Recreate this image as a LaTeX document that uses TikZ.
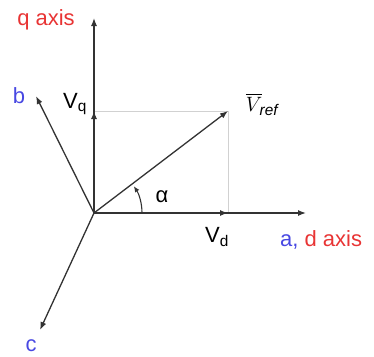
\documentclass[tikz,border=0pt]{standalone}
\usepackage{amsmath}
\usepackage{fontspec}
\setmainfont{Liberation Sans}
\usepackage{tikz}
\usetikzlibrary{arrows.meta}
\definecolor{axisred}{RGB}{232,52,52}
\definecolor{phaseblue}{RGB}{72,72,226}

\begin{document}
\begin{tikzpicture}[x=1pt,y=-1pt,
        vec/.style={line width=1.3pt,draw=black!80,-{Latex[length=8pt,width=6pt]}},
        proj/.style={line width=1pt,draw=black!18},
        lbl/.style={font=\fontsize{22}{24}\selectfont,inner sep=0pt}]
        \useasboundingbox (0,0) rectangle (374,356);
        % points
        \coordinate (O) at (94,213);
        \coordinate (qtip) at (94,18);
        \coordinate (dtip) at (306,213);
        \coordinate (vq) at (94,111);
        \coordinate (vd) at (228,213);
        \coordinate (vref) at (228,111);
        \coordinate (btip) at (36,96);
        \coordinate (ctip) at (40,330);
        % projections
        \draw[proj] (vq) -- (vref) -- (vd);
        % axes
        \draw[vec] (O) -- (qtip);
        \draw[vec] (O) -- (dtip);
        \draw[vec] (O) -- (btip);
        \draw[vec] (O) -- (ctip);
        % components and reference vector
        \draw[vec] (O) -- (vq);
        \draw[vec] (O) -- (vd);
        \draw[vec] (O) -- (vref);
        % angle
        \draw[line width=1.1pt,draw=black!80,-{Latex[length=6pt,width=5pt]}]
                ([xshift=48pt]O) arc[start angle=0,end angle=34,radius=48pt];
        % labels
        \node[lbl,text=axisred] (qlabel) at (46,20) {q axis};
        \node[lbl,text=phaseblue] (blabel) at (19,96) {b};
        \node[lbl,text=phaseblue] (clabel) at (31,346) {c};
        \node[lbl] (vqlabel) at (75,104) {V\textsubscript{q}};
        \node[lbl] (vdlabel) at (217,237) {V\textsubscript{d}};
        \node[lbl] (vreflabel) at (262,104) {$\overline{V}_{\!\mathit{ref}}$};
        \node[lbl] (alabel) at (162,197) {α};
        \node[lbl,anchor=west] (dlabel) at (280,240)
                {\textcolor{phaseblue}{a,} \textcolor{axisred}{d axis}};
\end{tikzpicture}
\end{document}
